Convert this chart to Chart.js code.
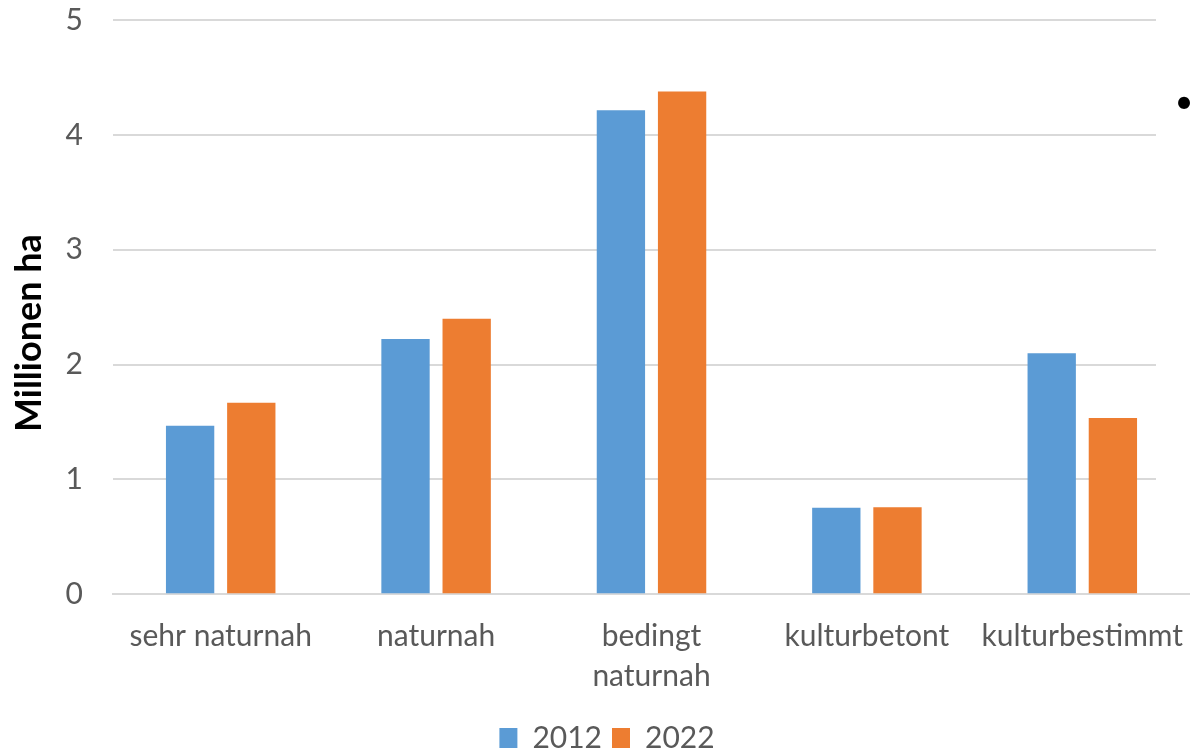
<!DOCTYPE html>
<html>
<head>
<meta charset="utf-8">
<script src="https://cdn.jsdelivr.net/npm/chart.js@4"></script>
<style>
  html, body { margin: 0; padding: 0; background: #ffffff; }
  #wrap { width: 1190px; height: 748px; }
</style>
</head>
<body>
<div id="wrap"><canvas id="c" width="1190" height="748"></canvas></div>
<script>
const categories = ['sehr naturnah', 'naturnah', ['bedingt', 'naturnah'], 'kulturbetont', 'kulturbestimmt'];
const seriesNames = ['2012', '2022'];
const values2012 = [1.467, 2.223, 4.214, 0.752, 2.098];
const values2022 = [1.668, 2.398, 4.377, 0.758, 1.534];
const yTicks = [0, 1, 2, 3, 4, 5];
const yTitle = 'Millionen ha';

const FONT = 'Lato, "Open Sans", sans-serif';
const TEXT = '#595959';
const GRID = '#D9D9D9';

const overlayPlugin = {
  id: 'overlay',
  afterLayout(chart) {
    if (chart.legend) { chart.legend.left += 24; }
  },
  beforeDatasetsDraw(chart) {
    const { ctx, chartArea, scales } = chart;
    const y0 = scales.y.getPixelForValue(0);
    ctx.save();
    ctx.fillStyle = '#ffffff';
    ctx.fillRect(chartArea.right - 34, 0, 60, y0 - 2);
    ctx.restore();
  },
  afterDraw(chart) {
    const { ctx, chartArea, scales } = chart;
    ctx.save();
    ctx.fillStyle = '#000000';
    ctx.font = '32px ' + FONT;
    ctx.textAlign = 'center';
    ctx.textBaseline = 'middle';
    ctx.fillText('•', chartArea.right - 6, scales.y.getPixelForValue(4.28));
    // y-axis title
    ctx.font = 'bold 36px ' + FONT;
    ctx.translate(29, (chartArea.top + chartArea.bottom) / 2 + 26);
    ctx.rotate(-Math.PI / 2);
    ctx.fillText(yTitle, 0, 0);
    ctx.restore();
  }
};

new Chart(document.getElementById('c'), {
  type: 'bar',
  data: {
    labels: categories,
    datasets: [
      { label: seriesNames[0], data: values2012, backgroundColor: '#5B9BD5', borderWidth: 0 },
      { label: seriesNames[1], data: values2022, backgroundColor: '#ED7D31', borderWidth: 0 }
    ]
  },
  options: {
    responsive: false,
    animation: false,
    devicePixelRatio: 1,
    layout: { padding: { top: 20, left: 0, right: 0, bottom: -15 } },
    datasets: { bar: { categoryPercentage: 0.568, barPercentage: 0.79 } },
    plugins: {
      tooltip: { enabled: false },
      legend: {
        position: 'bottom',
        labels: {
          font: { family: FONT, size: 30 },
          color: TEXT,
          boxWidth: 18,
          boxHeight: 20,
          padding: 10
        }
      }
    },
    scales: {
      x: {
        afterFit(scale) { scale.paddingLeft = 0; scale.paddingRight = 0; scale.height -= 5; },
        grid: { display: false, drawTicks: false },
        border: { display: true, color: GRID, width: 2 },
        ticks: {
          font: { family: FONT, size: 30, lineHeight: 1.33 },
          color: TEXT,
          padding: 22,
          maxRotation: 0,
          autoSkip: false
        }
      },
      y: {
        min: 0,
        max: 5,
        afterBuildTicks(scale) { scale.ticks = yTicks.map(v => ({ value: v })); },
        afterFit(scale) { scale.width = 113; scale.paddingTop = 0; scale.paddingBottom = 0; },
        grid: { color: GRID, lineWidth: 2, drawTicks: false },
        border: { display: false },
        ticks: {
          font: { family: FONT, size: 30 },
          color: TEXT,
          padding: 30
        },
        title: { display: false }
      }
    }
  },
  plugins: [overlayPlugin]
});
</script>
</body>
</html>
